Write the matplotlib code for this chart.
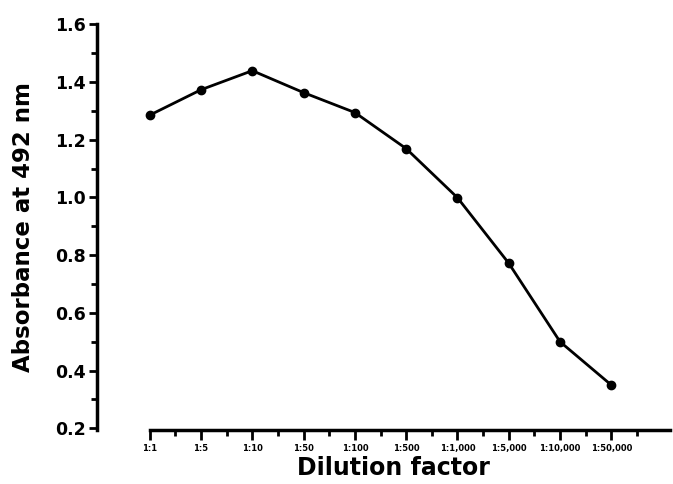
import matplotlib
matplotlib.use("Agg")
import matplotlib.pyplot as plt
from matplotlib.ticker import MultipleLocator, FixedLocator

dilutions = ["1:1", "1:5", "1:10", "1:50", "1:100", "1:500",
             "1:1,000", "1:5,000", "1:10,000", "1:50,000"]
absorbance = [1.285, 1.373, 1.439, 1.363, 1.294, 1.169, 0.999, 0.772, 0.50, 0.35]

positions = list(range(len(dilutions)))

fig = plt.figure(figsize=(6.73, 4.84), dpi=100)
ax = fig.add_axes([0.144, 0.112, 0.852, 0.838])

ax.plot(positions, absorbance, color="black", linewidth=2,
        marker="o", markersize=6, zorder=3)

ax.set_xlim(-1.03, 10.15)
ax.set_ylim(0.195, 1.6)

ax.spines["top"].set_visible(False)
ax.spines["right"].set_visible(False)
ax.spines["left"].set_linewidth(2.5)
ax.spines["bottom"].set_linewidth(2.5)
ax.spines["left"].set_bounds(0.195, 1.6)
ax.spines["bottom"].set_bounds(0, 10.15)

ax.set_xticks(positions)
ax.set_xticklabels(dilutions, fontsize=6, fontweight="bold")
ax.xaxis.set_minor_locator(FixedLocator([p + 0.5 for p in positions]))
ax.tick_params(axis="x", which="major", direction="out", length=7, width=2, pad=3)
ax.tick_params(axis="x", which="minor", direction="out", length=4, width=2)

ax.yaxis.set_minor_locator(MultipleLocator(0.1))
ax.set_yticks([0.2, 0.4, 0.6, 0.8, 1.0, 1.2, 1.4, 1.6])
ax.set_yticklabels(["0.2", "0.4", "0.6", "0.8", "1.0", "1.2", "1.4", "1.6"])
ax.tick_params(axis="y", which="major", direction="out", length=6, width=2,
               labelsize=12.5, pad=2)
ax.tick_params(axis="y", which="minor", direction="out", length=4, width=2)
for lbl in ax.get_yticklabels():
    lbl.set_fontweight("bold")

ax.set_xlabel("Dilution factor", fontsize=17, fontweight="bold")
ax.xaxis.set_label_coords(0.518, -0.065, transform=ax.transAxes)
ax.xaxis.label.set_va("top")
ax.set_ylabel("Absorbance at 492 nm", fontsize=16.5, fontweight="bold")
ax.yaxis.set_label_coords(-0.108, 0.5)

fig.savefig("out.png", dpi=100)
